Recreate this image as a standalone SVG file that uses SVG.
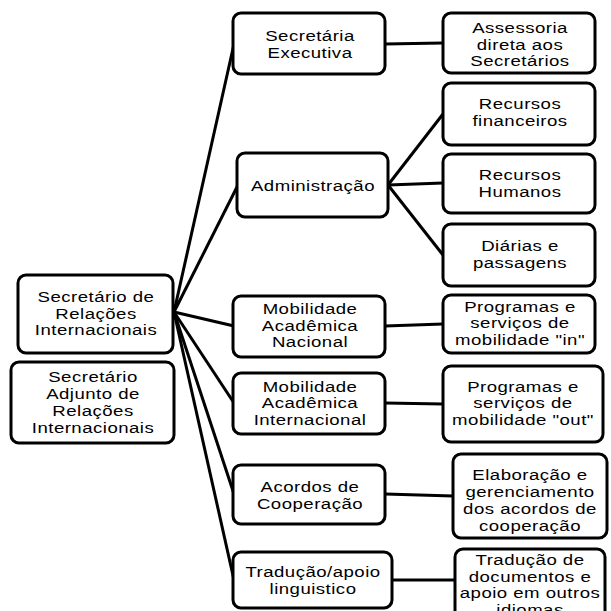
<svg xmlns="http://www.w3.org/2000/svg" width="611" height="611" viewBox="0 0 611 611">
<style>
rect.b{fill:#fff;stroke:#000;stroke-width:3}
text{font-family:"Liberation Sans",Arial,sans-serif;font-size:15.5px;letter-spacing:0.4px;text-anchor:middle;fill:#000}
.c line{stroke:#000;stroke-width:3}
</style>
<rect width="611" height="611" fill="#fff"/>
<g class="c" id="connectors">
<line x1="174" y1="312" x2="234" y2="44"/>
<line x1="174" y1="312" x2="238" y2="185"/>
<line x1="174" y1="312" x2="234" y2="326"/>
<line x1="174" y1="312" x2="234" y2="403"/>
<line x1="174" y1="312" x2="234" y2="494"/>
<line x1="174" y1="312" x2="234" y2="580"/>
<line x1="385" y1="44" x2="443" y2="43"/>
<line x1="388" y1="185" x2="443" y2="114"/>
<line x1="388" y1="185" x2="443" y2="183"/>
<line x1="388" y1="185" x2="443" y2="255"/>
<line x1="385" y1="326" x2="443" y2="324"/>
<line x1="385" y1="403" x2="443" y2="404"/>
<line x1="385" y1="494" x2="453" y2="496"/>
<line x1="392" y1="580" x2="455" y2="580"/>
</g>
<g id="root"><rect class="b" x="18" y="275" width="155" height="78" rx="8"/>
<g transform="translate(96 0) scale(1.2 1)"><text y="302.5">Secretário de</text><text y="319">Relações</text><text y="335.5">Internacionais</text></g></g>
<g id="adjunto"><rect class="b" x="11" y="362" width="163" height="81" rx="8"/>
<g transform="translate(93 0) scale(1.2 1)"><text y="382.5">Secretário</text><text y="399.5">Adjunto de</text><text y="416">Relações</text><text y="433">Internacionais</text></g></g>
<g id="executiva"><rect class="b" x="233" y="13" width="152" height="61" rx="8"/>
<g transform="translate(310 0) scale(1.2 1)"><text y="41">Secretária</text><text y="58">Executiva</text></g></g>
<g id="administracao"><rect class="b" x="237" y="153" width="151" height="64" rx="8"/>
<g transform="translate(313 0) scale(1.2 1)"><text y="191">Administração</text></g></g>
<g id="mob-nacional"><rect class="b" x="233" y="296" width="152" height="61" rx="8"/>
<g transform="translate(310 0) scale(1.2 1)"><text y="314.5">Mobilidade</text><text y="331">Acadêmica</text><text y="347.5">Nacional</text></g></g>
<g id="mob-internacional"><rect class="b" x="233" y="373" width="152" height="61" rx="8"/>
<g transform="translate(310 0) scale(1.2 1)"><text y="392">Mobilidade</text><text y="408.5">Acadêmica</text><text y="425">Internacional</text></g></g>
<g id="acordos"><rect class="b" x="233" y="465" width="152" height="59" rx="8"/>
<g transform="translate(310 0) scale(1.2 1)"><text y="492">Acordos de</text><text y="509">Cooperação</text></g></g>
<g id="traducao-apoio"><rect class="b" x="233" y="552" width="159" height="56" rx="8"/>
<g transform="translate(313 0) scale(1.2 1)"><text y="577">Tradução/apoio</text><text y="594">linguistico</text></g></g>
<g id="assessoria"><rect class="b" x="443" y="13" width="152" height="60" rx="8"/>
<g transform="translate(520 0) scale(1.2 1)"><text y="33.5">Assessoria</text><text y="50">direta aos</text><text y="66.5">Secretários</text></g></g>
<g id="rec-financeiros"><rect class="b" x="443" y="83" width="152" height="62" rx="8"/>
<g transform="translate(520 0) scale(1.2 1)"><text y="109">Recursos</text><text y="126">financeiros</text></g></g>
<g id="rec-humanos"><rect class="b" x="443" y="154" width="152" height="59" rx="8"/>
<g transform="translate(520 0) scale(1.2 1)"><text y="180">Recursos</text><text y="197">Humanos</text></g></g>
<g id="diarias"><rect class="b" x="443" y="224" width="152" height="62" rx="8"/>
<g transform="translate(520 0) scale(1.2 1)"><text y="251">Diárias e</text><text y="268">passagens</text></g></g>
<g id="prog-in"><rect class="b" x="443" y="295" width="152" height="58" rx="8"/>
<g transform="translate(520 0) scale(1.2 1)"><text y="312">Programas e</text><text y="328.5">serviços de</text><text y="345">mobilidade "in"</text></g></g>
<g id="prog-out"><rect class="b" x="443" y="366" width="160" height="76" rx="8"/>
<g transform="translate(523 0) scale(1.2 1)"><text y="392">Programas e</text><text y="408.5">serviços de</text><text y="425">mobilidade "out"</text></g></g>
<g id="elaboracao"><rect class="b" x="453" y="454" width="154" height="84" rx="8"/>
<g transform="translate(530 0) scale(1.2 1)"><text y="480.5">Elaboração e</text><text y="497">gerenciamento</text><text y="514">dos acordos de</text><text y="531">cooperação</text></g></g>
<g id="traducao-docs"><rect class="b" x="455" y="549" width="150" height="72" rx="8"/>
<g transform="translate(530 0) scale(1.2 1)"><text y="565.5">Tradução de</text><text y="582">documentos e</text><text y="598.5">apoio em outros</text><text y="615">idiomas</text></g></g>
</svg>
